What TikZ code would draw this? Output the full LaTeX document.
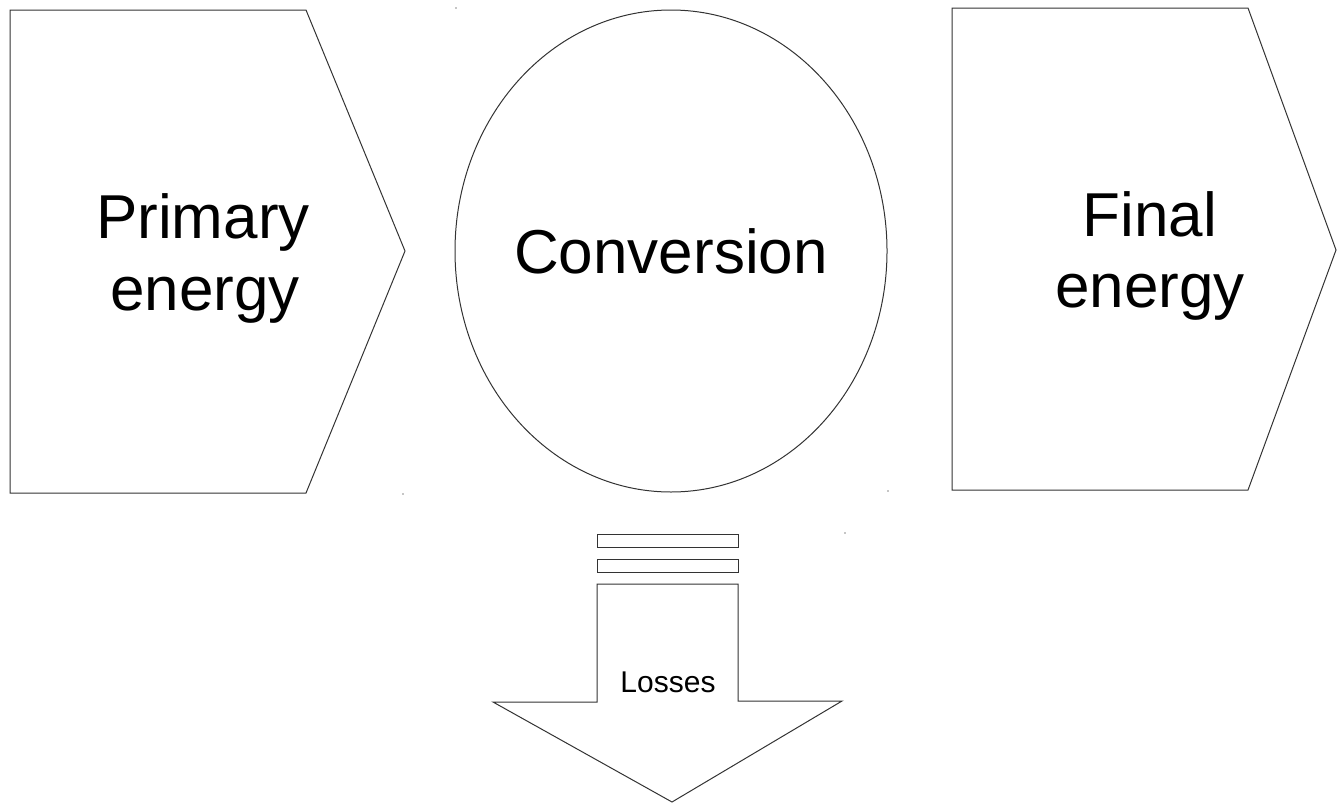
\documentclass[tikz,border=0pt]{standalone}
\usepackage{fontspec}
\setmainfont{Liberation Sans}
\begin{document}
\begin{tikzpicture}[x=1pt,y=-1pt,
  shapeline/.style={draw=black!80,line width=1pt,line join=miter},
  bigtext/.style={font=\fontsize{62}{72}\selectfont,anchor=base,inner sep=0pt},
  smalltext/.style={font=\fontsize{30}{36}\selectfont,anchor=base,inner sep=0pt},
  speck/.style={fill=black!45,draw=none}]
\useasboundingbox (0,0) rectangle (1337,803);
% left pentagon (primary energy)
\draw[shapeline] (10,10) -- (306,10) -- (405,251) -- (306,493) -- (10,493) -- cycle;
\node[bigtext] (prim1) at (203,238) {Primary};
\node[bigtext] (prim2) at (205,310) {energy};
% conversion ellipse
\draw[shapeline] (671,251) ellipse [x radius=216, y radius=241];
\node[bigtext] (conv) at (671,273) {Conversion};
% right pentagon (final energy)
\draw[shapeline] (952,8) -- (1248,8) -- (1336,250) -- (1248,490) -- (952,490) -- cycle;
\node[bigtext] (fin1) at (1150,236) {Final};
\node[bigtext] (fin2) at (1150,307) {energy};
% losses bars and arrow
\draw[shapeline] (597,534) rectangle (738,547);
\draw[shapeline] (597,559) rectangle (738,572);
\draw[shapeline] (597,584) -- (738,584) -- (738,701) -- (842,701) -- (672,802) -- (493,702) -- (597,702) -- cycle;
\node[smalltext] (loss) at (668,692) {Losses};
% tiny specks
\fill[speck] (456,8) circle (0.8);
\fill[speck] (403,494) circle (0.8);
\fill[speck] (888,491) circle (0.8);
\fill[speck] (845,533) circle (0.8);
\end{tikzpicture}
\end{document}
